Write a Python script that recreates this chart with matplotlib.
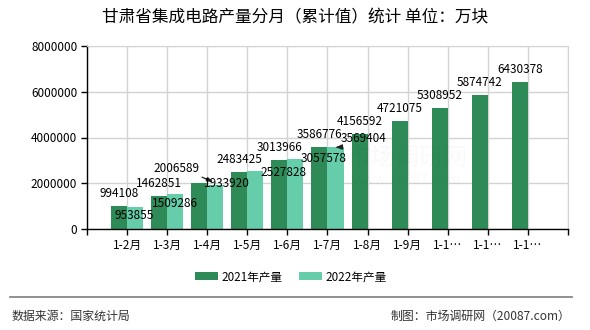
import matplotlib
matplotlib.use("Agg")
import matplotlib.pyplot as plt
import matplotlib.transforms as mtransforms
from matplotlib.lines import Line2D
import numpy as np

plt.rcParams['font.family'] = ['Noto Sans CJK SC', 'DejaVu Sans']

title = "甘肃省集成电路产量分月（累计值）统计 单位：万块"
months = ["1-2月", "1-3月", "1-4月", "1-5月", "1-6月", "1-7月", "1-8月", "1-9月", "1-1…", "1-1…", "1-1…"]
prod_2021 = [994108, 1462851, 2006589, 2483425, 3013966, 3586776, 4156592, 4721075, 5308952, 5874742, 6430378]
prod_2022 = [953855, 1509286, 1933920, 2527828, 3057578, 3569404]
series_names = ["2021年产量", "2022年产量"]

c21 = "#2e8b57"
c22 = "#66cdaa"

W, H = 590, 330
fig = plt.figure(figsize=(W / 100, H / 100), dpi=100)
ax = fig.add_axes([87 / W, (H - 229) / H, (568 - 87) / W, (229 - 46) / H])

x21 = np.arange(len(prod_2021))
x22 = np.arange(len(prod_2022))
bw = 0.4
ax.bar(x21 - bw / 2, prod_2021, bw, color=c21, zorder=2, label=series_names[0])
ax.bar(x22 + bw / 2, prod_2022, bw, color=c22, zorder=2, label=series_names[1])

ax.set_xlim(-1, len(months))
ax.set_ylim(0, 8000000)
ax.set_yticks(np.arange(0, 8000001, 2000000))
ax.set_yticklabels([f"{int(v)}" for v in np.arange(0, 8000001, 2000000)])
ax.set_xticks(np.arange(-1, len(months) + 1))
ax.set_xticklabels([""] + months + [""])
ax.tick_params(axis="both", labelsize=8.5, length=4, width=1, colors="black", pad=3)
ax.grid(True, color="#d3d3d3", lw=1, zorder=0)
for s in ("top", "right"):
    ax.spines[s].set_color("#d3d3d3")
for s in ("left", "bottom"):
    ax.spines[s].set_color("black")
    ax.spines[s].set_linewidth(1)

lbl_fs = 8.5

# 2021 labels: above bars, one displaced with a leader line
for i, v in enumerate(prod_2021):
    if i == 2:
        continue
    ax.annotate(f"{v}", xy=(x21[i] - bw / 2, v), xytext=(0, 12.5), textcoords="offset pixels",
                ha="center", va="center", fontsize=lbl_fs, zorder=5)

tip = ax.transData + mtransforms.Affine2D().translate(13.7, 1.3)
ax.annotate(f"{prod_2021[2]}", xy=(x21[2] - bw / 2, prod_2021[2]), xycoords=tip,
            xytext=(-36.7, 13.4), textcoords="offset pixels", ha="center", va="center",
            fontsize=lbl_fs, zorder=5,
            arrowprops=dict(arrowstyle="-|>,head_length=0.4,head_width=0.15", color="#222222", lw=0.9,
                            relpos=(0, 0), shrinkA=0, shrinkB=0,
                            connectionstyle="angle,angleA=0,angleB=-23,rad=0"))

# 2022 labels
off22 = [(-1, -8.5), (0, -9.5), (12, 1), (28, -1), (28, 1)]
for i, v in enumerate(prod_2022[:5]):
    ax.annotate(f"{v}", xy=(x22[i] + bw / 2, v), xytext=off22[i], textcoords="offset pixels",
                ha="center", va="center", fontsize=lbl_fs, zorder=5)
ax.annotate(f"{prod_2022[5]}", xy=(x22[5] + bw / 2, prod_2022[5]), xytext=(28, 9),
            textcoords="offset pixels", ha="center", va="center", fontsize=lbl_fs, zorder=5,
            arrowprops=dict(arrowstyle="-|>,head_length=0.45,head_width=0.18", color="#222222", lw=0.9,
                            relpos=(1, 0), shrinkA=-3, shrinkB=0))

# faint watermark
fig.text(407 / W, 1 - 158 / H, "市场调研网", fontsize=17.5, color="black", alpha=0.025,
         ha="center", va="center")
fig.text(407 / W, 1 - 180 / H, "www.20087.com", fontsize=10, color="black", alpha=0.02,
         ha="center", va="center")

fig.text(295 / W, 1 - 17.5 / H, title, fontsize=12, ha="center", va="center")

fig.legend(loc="center", bbox_to_anchor=(291 / W, 1 - 276.7 / H), ncol=2, frameon=False,
           fontsize=8.4, handlelength=2.0, handleheight=0.7, handletextpad=0.3, columnspacing=1.4)

fig.add_artist(Line2D([10 / W, 572 / W], [1 - 297.3 / H] * 2, color="#888888", lw=1.3))
fig.text(11.5 / W, 1 - 316 / H, "数据来源：国家统计局", fontsize=8.6, color="#333333", ha="left", va="center")
fig.text(570 / W, 1 - 316 / H, "制图：市场调研网（20087.com）", fontsize=8.6, color="#333333",
         ha="right", va="center")

fig.savefig("out.png", dpi=100)
